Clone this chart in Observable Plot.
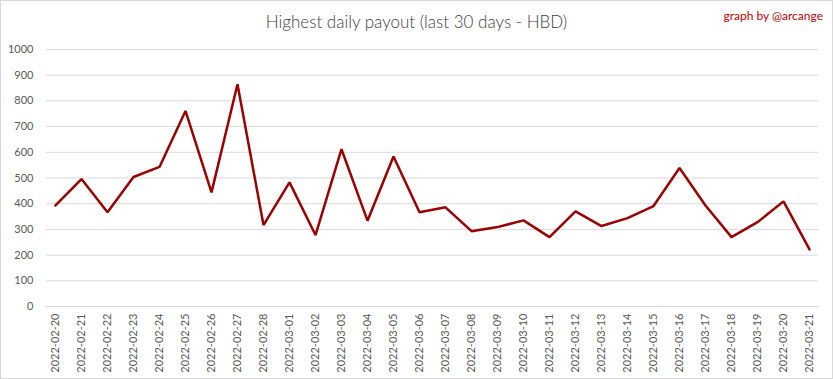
<!DOCTYPE html>
<html>
<head>
<meta charset="utf-8">
<script src="https://cdn.jsdelivr.net/npm/d3@7"></script>
<script src="https://cdn.jsdelivr.net/npm/@observablehq/plot@0.6"></script>
<style>
  html, body { margin: 0; padding: 0; background: #fff; }
  #chart { position: relative; width: 833px; height: 379px; box-sizing: border-box; overflow: hidden; }
  #frame { position: absolute; left: 0; top: 0; width: 833px; height: 379px; box-sizing: border-box; border: 1px solid #d9d9d9; pointer-events: none; }
  #title { position: absolute; left: 0; width: 833px; top: 11px; text-align: center; font-family: Lato, "Open Sans", sans-serif; font-weight: 300; font-size: 17px; color: #404040; }
  #credit { position: absolute; right: 10px; top: 8px; font-family: Lato, "Open Sans", sans-serif; font-size: 12px; color: #c00000; }
  svg { position: absolute; left: 0; top: 0; }
</style>
</head>
<body>
<div id="chart">
  <div id="title">Highest daily payout (last 30 days - HBD)</div>
  <div id="credit">graph by @arcange</div>
  <div id="frame"></div>
</div>
<script>
const dates = [
  "2022-02-20","2022-02-21","2022-02-22","2022-02-23","2022-02-24","2022-02-25",
  "2022-02-26","2022-02-27","2022-02-28","2022-03-01","2022-03-02","2022-03-03",
  "2022-03-04","2022-03-05","2022-03-06","2022-03-07","2022-03-08","2022-03-09",
  "2022-03-10","2022-03-11","2022-03-12","2022-03-13","2022-03-14","2022-03-15",
  "2022-03-16","2022-03-17","2022-03-18","2022-03-19","2022-03-20","2022-03-21"
];
const payouts = [
  393, 496, 367, 504, 543, 761,
  444, 865, 317, 483, 278, 612,
  334, 584, 367, 386, 293, 309,
  335, 270, 370, 313, 344, 391,
  539, 393, 270, 328, 409, 222
];
const yTicks = [0, 100, 200, 300, 400, 500, 600, 700, 800, 900, 1000];

const data = dates.map((d, i) => ({date: d, value: payouts[i]}));

const chart = Plot.plot({
  width: 833,
  height: 379,
  marginLeft: 46,
  marginRight: 15,
  marginTop: 49,
  marginBottom: 73,
  style: {fontFamily: "Lato, 'Open Sans', sans-serif", fontSize: "11px", color: "#595959", background: "transparent"},
  x: {type: "point", domain: dates, padding: 0.25, label: null},
  y: {domain: [0, 1000], label: null},
  marks: [
    Plot.ruleY(yTicks, {stroke: "#d9d9d9", strokeWidth: 1}),
    Plot.axisY({ticks: yTicks, tickFormat: d => String(d), tickSize: 0, tickPadding: 13, label: null, fill: "#595959", fontSize: 11}),
    Plot.axisX({tickSize: 0, tickRotate: -90, tickPadding: 7, label: null, fill: "#595959", fontSize: 11}),
    Plot.line(data, {x: "date", y: "value", stroke: "#9b0000", strokeWidth: 2.5, strokeLinejoin: "miter"})
  ]
});
document.getElementById("chart").insertBefore(chart, document.getElementById("title"));
</script>
</body>
</html>
